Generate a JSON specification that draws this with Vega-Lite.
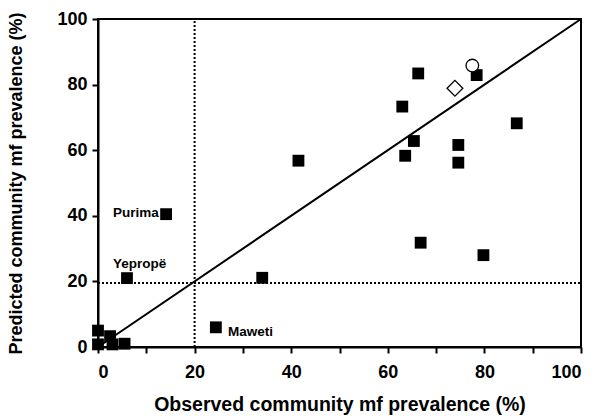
{
  "$schema": "https://vega.github.io/schema/vega-lite/v6.json",
  "width": 483,
  "height": 328,
  "autosize": {"type": "none"},
  "padding": {"left": 98, "top": 19, "right": 19, "bottom": 72},
  "background": "white",
  "config": {
    "font": "Liberation Sans",
    "view": {"stroke": "black", "strokeWidth": 2},
    "axis": {
      "grid": false,
      "domainColor": "black",
      "domainWidth": 2,
      "tickColor": "black",
      "tickWidth": 2,
      "tickSize": 6,
      "labelFont": "Liberation Sans",
      "labelFontWeight": "bold",
      "labelFontSize": 18,
      "labelColor": "black",
      "titleFont": "Liberation Sans",
      "titleFontWeight": "bold",
      "titleColor": "black"
    }
  },
  "datasets": {
    "points": [
      {"obs": 0, "pred": 5, "type": "square"},
      {"obs": 0, "pred": 0.8, "type": "square"},
      {"obs": 2.5, "pred": 3.3, "type": "square"},
      {"obs": 3, "pred": 0.8, "type": "square"},
      {"obs": 5.5, "pred": 1, "type": "square"},
      {"obs": 6, "pred": 21, "type": "square"},
      {"obs": 14.1, "pred": 40.5, "type": "square"},
      {"obs": 24.4, "pred": 6, "type": "square"},
      {"obs": 34, "pred": 21.1, "type": "square"},
      {"obs": 41.5, "pred": 56.8, "type": "square"},
      {"obs": 63, "pred": 73.3, "type": "square"},
      {"obs": 63.6, "pred": 58.3, "type": "square"},
      {"obs": 65.4, "pred": 62.8, "type": "square"},
      {"obs": 66.3, "pred": 83.4, "type": "square"},
      {"obs": 66.8, "pred": 31.8, "type": "square"},
      {"obs": 74.6, "pred": 61.6, "type": "square"},
      {"obs": 74.6, "pred": 56.2, "type": "square"},
      {"obs": 78.4, "pred": 82.9, "type": "square"},
      {"obs": 79.8, "pred": 28, "type": "square"},
      {"obs": 86.7, "pred": 68.2, "type": "square"},
      {"obs": 73.9, "pred": 78.9, "type": "diamond"},
      {"obs": 77.5, "pred": 85.8, "type": "circle"}
    ],
    "diag": [
      {"obs": 0, "pred": 0},
      {"obs": 100, "pred": 100}
    ],
    "hline": [
      {"obs": 0, "pred": 19.5},
      {"obs": 100, "pred": 19.5}
    ],
    "vline": [
      {"obs": 20, "pred": 0},
      {"obs": 20, "pred": 100}
    ],
    "labels": [
      {"obs": 3.1, "pred": 40.9, "label": "Purima"},
      {"obs": 3.1, "pred": 25.3, "label": "Yepropë"},
      {"obs": 26.9, "pred": 4.7, "label": "Maweti"}
    ]
  },
  "layer": [
    {
      "data": {"name": "hline"},
      "mark": {"type": "line", "color": "black", "strokeWidth": 2, "strokeDash": [2, 2]},
      "encoding": {
        "x": {"field": "obs", "type": "quantitative", "scale": {"domain": [0, 100]},
          "axis": {"values": [0, 10, 20, 30, 40, 50, 60, 70, 80, 90, 100],
            "labelExpr": "datum.value % 20 == 0 ? datum.label : ''",
            "labelPadding": 10, "titlePadding": 14, "titleFontSize": 19.5,
            "title": "Observed community mf prevalence (%)"}},
        "y": {"field": "pred", "type": "quantitative", "scale": {"domain": [0, 100]},
          "axis": {"values": [0, 10, 20, 30, 40, 50, 60, 70, 80, 90, 100],
            "labelExpr": "datum.value % 20 == 0 ? datum.label : ''",
            "labelPadding": 5, "titlePadding": 31, "titleFontSize": 18,
            "title": "Predicted community mf prevalence (%)"}}
      }
    },
    {
      "data": {"name": "vline"},
      "mark": {"type": "line", "color": "black", "strokeWidth": 2, "strokeDash": [2, 2]},
      "encoding": {
        "x": {"field": "obs", "type": "quantitative"},
        "y": {"field": "pred", "type": "quantitative"}
      }
    },
    {
      "data": {"name": "diag"},
      "mark": {"type": "line", "color": "black", "strokeWidth": 2},
      "encoding": {
        "x": {"field": "obs", "type": "quantitative"},
        "y": {"field": "pred", "type": "quantitative"}
      }
    },
    {
      "data": {"name": "points"},
      "transform": [{"filter": "datum.type == 'square'"}],
      "mark": {"type": "point", "shape": "square", "size": 140, "filled": true, "color": "black", "opacity": 1},
      "encoding": {
        "x": {"field": "obs", "type": "quantitative"},
        "y": {"field": "pred", "type": "quantitative"}
      }
    },
    {
      "data": {"name": "points"},
      "transform": [{"filter": "datum.type == 'diamond'"}],
      "mark": {"type": "point", "shape": "diamond", "size": 250, "fill": "white", "stroke": "black", "strokeWidth": 1.3, "opacity": 1},
      "encoding": {
        "x": {"field": "obs", "type": "quantitative"},
        "y": {"field": "pred", "type": "quantitative"}
      }
    },
    {
      "data": {"name": "points"},
      "transform": [{"filter": "datum.type == 'circle'"}],
      "mark": {"type": "point", "shape": "circle", "size": 160, "fill": "white", "stroke": "black", "strokeWidth": 1.3, "opacity": 1},
      "encoding": {
        "x": {"field": "obs", "type": "quantitative"},
        "y": {"field": "pred", "type": "quantitative"}
      }
    },
    {
      "data": {"name": "labels"},
      "mark": {"type": "text", "align": "left", "baseline": "middle", "font": "Liberation Sans", "fontWeight": "bold", "fontSize": 13.5, "color": "black"},
      "encoding": {
        "x": {"field": "obs", "type": "quantitative"},
        "y": {"field": "pred", "type": "quantitative"},
        "text": {"field": "label", "type": "nominal"}
      }
    }
  ]
}
